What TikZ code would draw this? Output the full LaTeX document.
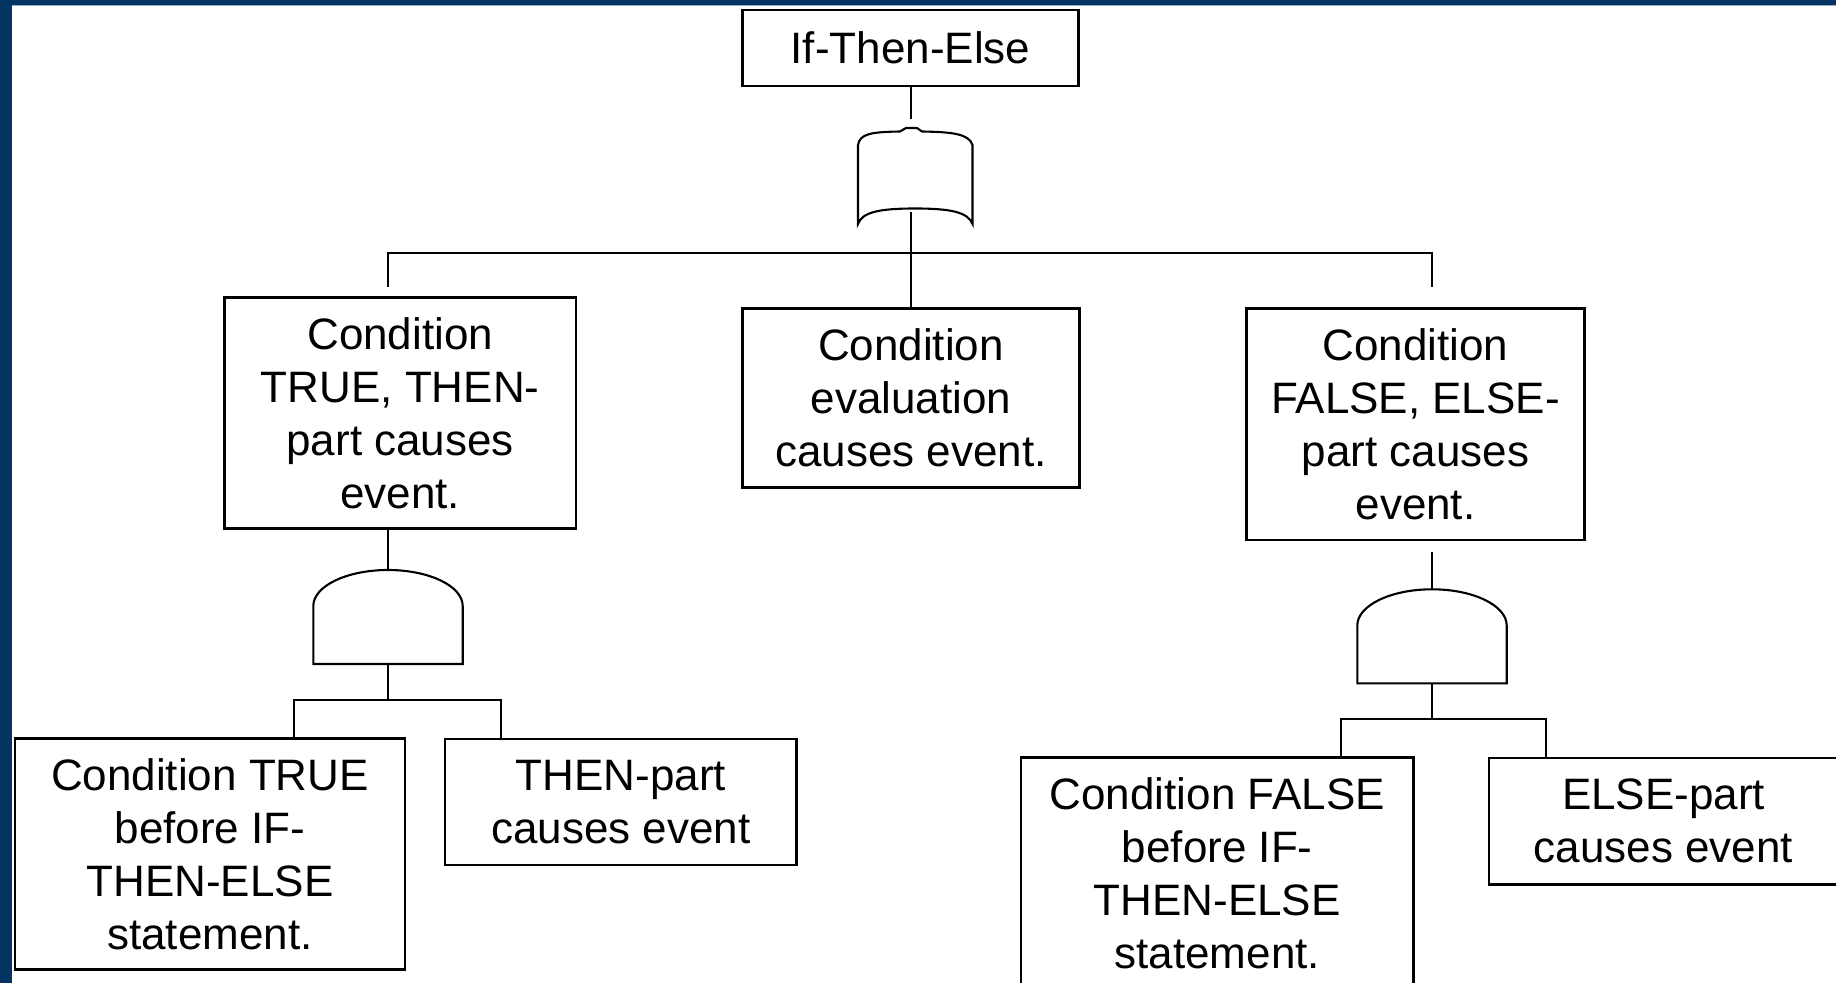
\documentclass[tikz,border=0pt]{standalone}
\usepackage{fontspec}
\setmainfont{Liberation Sans}
\definecolor{frameblue}{RGB}{4,52,98}
\definecolor{frameedge}{RGB}{150,175,200}
\begin{document}
\begin{tikzpicture}[x=0.5pt,y=-0.5pt,
  eventbox/.style={draw=black, line width=1.3pt, fill=white, inner sep=0pt,
    align=center, font=\fontsize{22pt}{26.5pt}\selectfont},
  conn/.style={draw=black, line width=1.15pt},
  gate/.style={draw=black, line width=1.05pt, fill=white}]

% canvas and frame
\useasboundingbox (0,0) rectangle (1836,983);
\clip (0,0) rectangle (1836,983);
\fill[white] (0,0) rectangle (1836,983);
\fill[frameblue] (0,0) rectangle (1836,5);
\fill[frameblue] (0,0) rectangle (12,983);
\draw[frameedge, line width=0.5pt] (12,5.6) -- (1836,5.6);

% events
\node[eventbox, minimum width=168pt, minimum height=38pt] (top) at (910.5,48) {If-Then-Else};
\node[eventbox, minimum width=175.85pt, minimum height=115.3pt] (thenev) at (400.2,413)
  {Condition\\TRUE, THEN-\\part causes\\event.};
\node[eventbox, minimum width=168.65pt, minimum height=89.7pt] (evalev) at (911,398)
  {Condition\\evaluation\\causes event.};
\node[eventbox, minimum width=168.8pt, minimum height=115.85pt] (elseev) at (1415.5,424.2)
  {Condition\\FALSE, ELSE-\\part causes\\event.};
\node[eventbox, minimum width=195pt, minimum height=115.5pt] (truebefore) at (210,853.8)
  {Condition TRUE\\before IF-\\THEN-ELSE\\statement.};
\node[eventbox, minimum width=175.85pt, minimum height=63pt] (thenpart) at (620.85,802)
  {THEN-part\\causes event};
\node[eventbox, minimum width=196.15pt, minimum height=115.15pt] (falsebefore) at (1217.2,872.9)
  {Condition FALSE\\before IF-\\THEN-ELSE\\statement.};
\node[eventbox, minimum width=174.5pt, minimum height=63.15pt] (elsepart) at (1663.5,821.2)
  {ELSE-part\\causes event};

% OR gate
\draw[gate] (858,224) -- (858,145)
  .. controls (860,134) and (870,132) .. (900,131.5) -- (906,128) -- (917,128) -- (922,131.5)
  .. controls (953,132) and (969,134) .. (972.5,145) -- (972.5,224)
  .. controls (968,212) and (950,208.5) .. (915,208.5)
  .. controls (880,208.5) and (862,212) .. (858,224) -- cycle;

% AND gates
\draw[gate] (313.3,664) -- (313.3,606)
  arc[start angle=180, end angle=0, x radius=37.35pt, y radius=18pt] -- (462.7,664) -- cycle;
\draw[gate] (1357.3,683.3) -- (1357.3,625.5)
  arc[start angle=180, end angle=0, x radius=37.35pt, y radius=18.1pt] -- (1506.7,683.3) -- cycle;

% connector points
\coordinate (orIn) at (911,119);
\coordinate (orOut) at (911,212);
\coordinate (busL) at (388,253);
\coordinate (busR) at (1432,253);
\coordinate (dropL) at (388,287);
\coordinate (dropR) at (1432,287);
\coordinate (andLtop) at (388,570);
\coordinate (andLbot) at (388,664);
\coordinate (subL1) at (294,700);
\coordinate (subL2) at (501,700);
\coordinate (andRin) at (1432,552);
\coordinate (andRtop) at (1432,589.3);
\coordinate (andRbot) at (1432,683.3);
\coordinate (subR1) at (1340.7,719);
\coordinate (subR2) at (1545.7,719);

% connectors
\draw[conn] (top.south -| orIn) -- (orIn);
\draw[conn] (orOut) -- (evalev.north -| orOut);
\draw[conn] (dropL) -- (busL) -- (busR) -- (dropR);
\draw[conn] (thenev.south -| andLtop) -- (andLtop);
\draw[conn] (andLbot) -- (andLbot |- subL1);
\draw[conn] (truebefore.north -| subL1) -- (subL1) -- (subL2) -- (thenpart.north -| subL2);
\draw[conn] (andRin) -- (andRtop);
\draw[conn] (andRbot) -- (andRbot |- subR1);
\draw[conn] (falsebefore.north -| subR1) -- (subR1) -- (subR2) -- (elsepart.north -| subR2);
\end{tikzpicture}
\end{document}
